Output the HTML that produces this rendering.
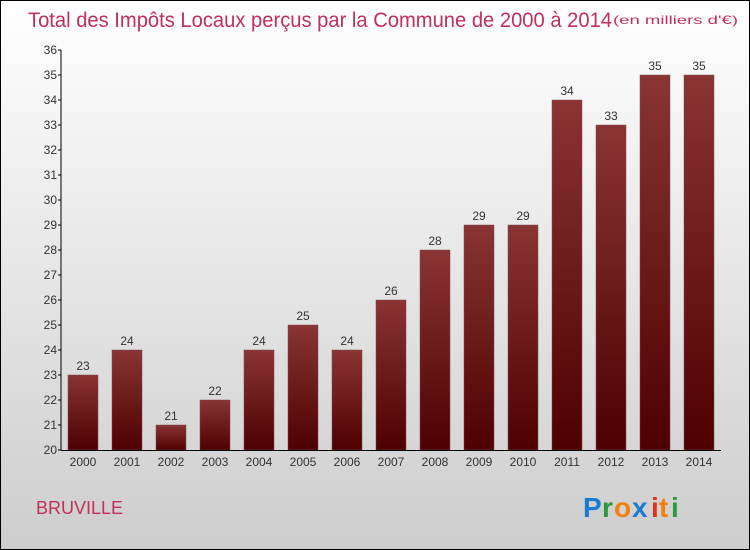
<!DOCTYPE html>
<html><head><meta charset="utf-8"><style>
html,body{margin:0;padding:0;width:750px;height:550px;overflow:hidden}
svg text{font-family:"Liberation Sans",sans-serif}
</style></head><body>
<svg id="chart" width="750" height="550" xmlns="http://www.w3.org/2000/svg">
<defs>
<linearGradient id="bg" x1="0" y1="0" x2="0" y2="1"><stop offset="0" stop-color="#ffffff"/><stop offset="1" stop-color="#cdcdcd"/></linearGradient>
<linearGradient id="bar" x1="0" y1="0" x2="0" y2="1"><stop offset="0" stop-color="#8a3434"/><stop offset="1" stop-color="#4e0000"/></linearGradient>
</defs>
<rect x="0.5" y="0.5" width="749" height="549" fill="url(#bg)" stroke="#000"/>
<text x="28" y="27" font-size="21" fill="#c0305a" textLength="584" lengthAdjust="spacingAndGlyphs">Total des Impôts Locaux perçus par la Commune de 2000 à 2014</text>
<text x="613" y="24" font-size="12" fill="#c0305a" textLength="125" lengthAdjust="spacingAndGlyphs">(en milliers d'€)</text>
<g id="plot"></g>
<text x="36" y="514" font-size="18" fill="#c0305a">BRUVILLE</text>
<g font-size="28" font-weight="bold">
<text x="583" y="517" fill="#1a7bd0">P</text><text x="602" y="517" fill="#2a9a40">r</text><text x="614" y="517" fill="#f08010">o</text><text x="632" y="517" fill="#1a7bd0">x</text><text x="651" y="517" fill="#e03020">i</text><text x="659" y="517" fill="#f08010">t</text><text x="671" y="517" fill="#2a9a40">i</text>
</g>
</svg>
<script>
const years=["2000","2001","2002","2003","2004","2005","2006","2007","2008","2009","2010","2011","2012","2013","2014"];
const values=[23,24,21,22,24,25,24,26,28,29,29,34,33,35,35];
const yTicks=[20,21,22,23,24,25,26,27,28,29,30,31,32,33,34,35,36];
const NS="http://www.w3.org/2000/svg";
const g=document.getElementById('plot');
const x0=61,x1=721,yTop=50,yBot=450,yMin=20,yMax=36;
const y=v=>yBot-(v-yMin)/(yMax-yMin)*(yBot-yTop);
const step=(x1-x0)/years.length;
const xc=i=>x0+step*(i+0.5);
function el(t,a){const e=document.createElementNS(NS,t);for(const k in a)e.setAttribute(k,a[k]);g.appendChild(e);return e;}
values.forEach((v,i)=>{
 const r=el('rect',{x:xc(i)-15,y:y(v),width:30,height:yBot-y(v),fill:'url(#bar)',stroke:'#7a4a4a','stroke-width':0.5});
 
 
 const t=el('text',{x:xc(i),y:y(v)-5,'text-anchor':'middle','font-size':12,fill:'#333'});
 t.textContent=v;
 
 
 const xl=el('text',{x:xc(i),y:466,'text-anchor':'middle','font-size':12,fill:'#333'});
 xl.textContent=years[i];
 
 
});
const ya=el('line',{x1:x0,y1:yTop,x2:x0,y2:yBot,stroke:'#000'});


const xa=el('line',{x1:x0,y1:yBot+0.5,x2:x1,y2:yBot+0.5,stroke:'#000'});


yTicks.forEach(v=>{
 el('line',{x1:x0-3,y1:y(v),x2:x0,y2:y(v),stroke:'#000'});
 const t=el('text',{x:x0-4,y:y(v)+4,'text-anchor':'end','font-size':12,fill:'#333'});
 t.textContent=v;
 
 
});
</script>
</body></html>
